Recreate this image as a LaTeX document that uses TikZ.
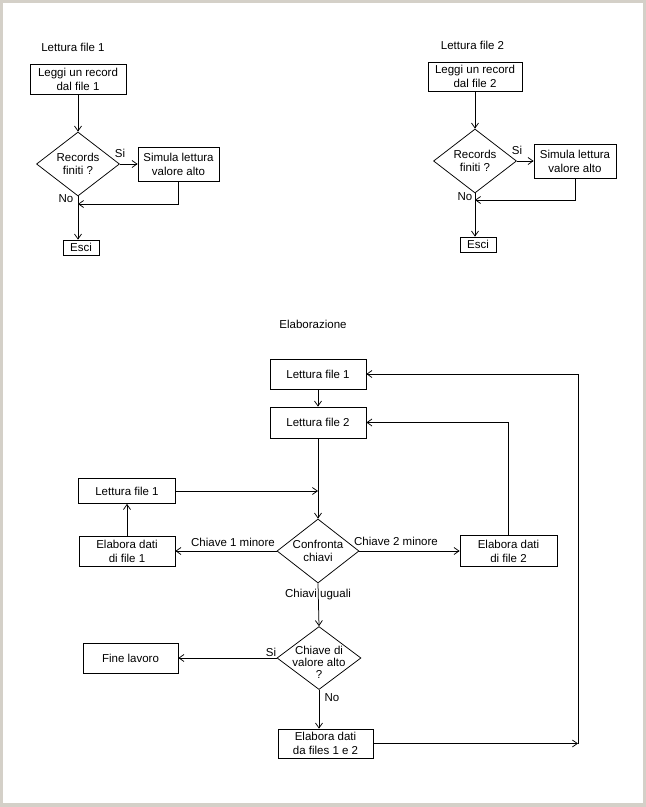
\documentclass[tikz,border=0pt]{standalone}
\usepackage{fontspec}
\setmainfont{Liberation Sans}
\usetikzlibrary{shapes.geometric,arrows.meta}
\definecolor{framegray}{RGB}{212,208,200}
\begin{document}
\begin{tikzpicture}[x=1pt,y=-1pt,font=\fontsize{11.5}{14}\selectfont,line width=0.75pt]
\tikzstyle{box}=[draw, rectangle, inner sep=0pt, align=center]
\tikzstyle{decision}=[draw, diamond, inner sep=0pt]
\tikzstyle{dtext}=[align=center, inner sep=0pt, font=\fontsize{11.5}{13}\selectfont]
\tikzstyle{line}=[draw, -{Straight Barb[length=5pt,width=7pt]}]
\tikzstyle{tag}=[inner sep=0pt]

% Frame
\fill[framegray] (0,0) rectangle (646,807);
\fill[white] (3,3) rectangle (643,803);

% Lettura file 1
\node[tag] (title1) at (73,47) {Lettura file 1};
\node[box, minimum width=96pt, minimum height=30pt] (read1) at (78,79) {Leggi un record\\dal file 1};
\node[decision, minimum width=83pt, minimum height=64pt, label={[dtext]center:{Records\\finiti ?}}] (end1) at (78,164) {};
\node[box, minimum width=81pt, minimum height=34pt] (sim1) at (178.5,164) {Simula lettura\\valore alto};
\node[box, minimum width=36pt, minimum height=15pt] (exit1) at (81,247.5) {Esci};
\coordinate (back1) at (78,204);
\node[tag] (si1) at (120,153) {Si};
\node[tag] (no1) at (66,199) {No};

\draw[line] (read1) -- (end1.north);
\draw[line] (end1.east) -- (sim1);
\draw[line] (sim1.south) |- (back1);
\draw[line] (end1.south) -- (end1.south |- exit1.north);

% Lettura file 2
\node[tag] (title2) at (472.5,45) {Lettura file 2};
\node[box, minimum width=94pt, minimum height=29pt] (read2) at (475,76.5) {Leggi un record\\dal file 2};
\node[decision, minimum width=83pt, minimum height=64pt, label={[dtext]center:{Records\\finiti ?}}] (end2) at (475,161) {};
\node[box, minimum width=82pt, minimum height=34pt] (sim2) at (575,161) {Simula lettura\\valore alto};
\node[box, minimum width=36pt, minimum height=15pt] (exit2) at (478,244.5) {Esci};
\coordinate (back2) at (475,200);
\node[tag] (si2) at (517,150) {Si};
\node[tag] (no2) at (465,197) {No};

\draw[line] (read2) -- (end2.north);
\draw[line] (end2.east) -- (sim2);
\draw[line] (sim2.south) |- (back2);
\draw[line] (end2.south) -- (end2.south |- exit2.north);

% Elaborazione
\node[tag] (title3) at (313,324) {Elaborazione};
\node[box, minimum width=96pt, minimum height=30pt] (leggi1) at (318,374) {Lettura file 1};
\node[box, minimum width=96pt, minimum height=31pt] (leggi2) at (318,422.5) {Lettura file 2};
\node[decision, minimum width=82pt, minimum height=64pt, label={[dtext]center:{Confronta\\chiavi}}] (confronta) at (318,551) {};
\node[box, minimum width=97pt, minimum height=25pt] (rilegge1) at (127,491) {Lettura file 1};
\node[box, minimum width=96pt, minimum height=30pt] (elab1) at (127,551) {Elabora dati\\di file 1};
\node[box, minimum width=97pt, minimum height=31pt] (elab2) at (508.5,551) {Elabora dati\\di file 2};
\node[decision, minimum width=84pt, minimum height=63pt, label={[dtext, yshift=-4pt, font=\fontsize{11.5}{12}\selectfont]center:{Chiave di\\valore alto\\?}}] (alto) at (319,658) {};
\node[box, minimum width=95pt, minimum height=30pt] (fine) at (130.5,658) {Fine lavoro};
\node[box, minimum width=95pt, minimum height=29pt] (elab12) at (325.5,743.5) {Elabora dati\\da files 1 e 2};
\coordinate (join) at (318,491);
\coordinate (loop) at (578,743.5);

\node[tag] (minore1) at (233,542) {Chiave 1 minore};
\node[tag] (minore2) at (396,541) {Chiave 2 minore};
\node[tag] (uguali) at (318,595) {Chiavi uguali};
\node[tag] (si3) at (271,652) {Si};
\node[tag] (no3) at (332,698) {No};

\draw[line] (leggi1) -- (leggi2);
\draw[line] (leggi2) -- (confronta.north);
\draw[line] (rilegge1) -- (join);
\draw[line] (confronta.west) -- (elab1);
\draw[line] (elab1) -- (rilegge1);
\draw[line] (confronta.east) -- (elab2);
\draw[line] (elab2.north) |- (leggi2.east);
\draw[line] (confronta.south) -- (alto.north);
\draw[line] (alto.west) -- (fine);
\draw[line] (alto.south) -- (alto.south |- elab12.north);
\draw[line] (elab12) -- (loop);
\draw[line] (loop) |- (leggi1.east);
\end{tikzpicture}
\end{document}
